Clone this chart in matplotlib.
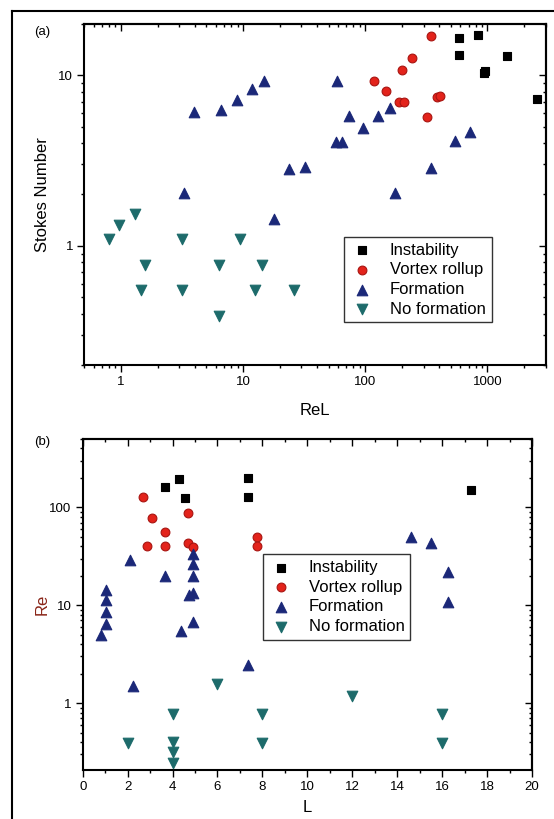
import numpy as np
import matplotlib.pyplot as plt
from matplotlib.lines import Line2D
from matplotlib.ticker import FuncFormatter, NullFormatter, MultipleLocator

plt.rcParams['font.family'] = ['Liberation Sans', 'DejaVu Sans']

# ---- panel (a): Stokes number vs ReL
inst_a_x = [587, 841, 580, 1443, 955, 945, 2564]
inst_a_y = [16.5, 17.2, 13.2, 13.0, 10.6, 10.3, 7.3]
vort_a_x = [346, 240, 201, 117, 147, 189, 206, 388, 409, 317]
vort_a_y = [17.0, 12.6, 10.8, 9.26, 8.13, 6.97, 7.0, 7.43, 7.57, 5.67]
form_a_x = [3.95, 6.61, 8.87, 11.8, 14.8, 58.2, 3.26, 23.6, 32.2, 17.9,
            58, 64, 73.6, 96, 128, 158, 175, 348, 545, 726]
form_a_y = [6.09, 6.23, 7.17, 8.28, 9.22, 9.26, 2.03, 2.81, 2.91, 1.44,
            4.08, 4.08, 5.8, 4.93, 5.74, 6.43, 2.03, 2.86, 4.12, 4.63]
nof_a_x = [0.79, 0.97, 1.29, 1.57, 1.45, 3.13, 3.13, 6.35, 6.35, 9.42, 12.6, 14.2, 26]
nof_a_y = [1.09, 1.33, 1.54, 0.77, 0.549, 1.09, 0.549, 0.77, 0.386, 1.09, 0.549, 0.77, 0.549]

# ---- panel (b): Re vs L
inst_b_L = [3.66, 4.29, 4.56, 7.37, 7.37, 17.28]
inst_b_Re = [160, 196, 126, 199, 129, 149]
vort_b_L = [2.67, 3.1, 2.88, 3.66, 3.66, 4.69, 4.69, 4.89, 7.78, 7.78]
vort_b_Re = [129, 78, 40.1, 56.1, 40, 86.9, 43, 39.5, 49.9, 40]
form_b_L = [2.09, 1.02, 1.02, 1.02, 1.02, 0.82, 3.66, 4.92, 4.92, 4.92,
            4.73, 4.92, 4.92, 4.39, 2.22, 7.37, 14.62, 15.52, 16.26, 16.26]
form_b_Re = [28.7, 14.3, 11.4, 8.62, 6.51, 4.92, 20, 33.3, 26.5, 19.7,
             12.8, 13.3, 6.71, 5.48, 1.5, 2.47, 50.3, 43, 21.8, 10.9]
nof_b_L = [2, 4, 4, 4, 4, 6, 8, 8, 12, 16, 16]
nof_b_Re = [0.389, 0.78, 0.398, 0.32, 0.243, 1.56, 0.78, 0.39, 1.18, 0.78, 0.39]

labels = ['Instability', 'Vortex rollup', 'Formation', 'No formation']
styles = [dict(marker='s', s=36, c='black', edgecolors='black'),
          dict(marker='o', s=40, c='#e3231b', edgecolors='#a81410'),
          dict(marker='^', s=58, c='#1b2878', edgecolors='#1b2878'),
          dict(marker='v', s=58, c='#1d6b6b', edgecolors='#1d6b6b')]

W, H = 554, 819


def fmt(v, _):
    return f'{v:g}'


def style_axes(ax, logx):
    ax.tick_params(which='both', direction='out', labelsize=9.5, width=1, pad=3,
                   top=False, right=False)
    ax.tick_params(which='major', length=5)
    ax.tick_params(which='minor', length=2.5)
    for sp in ax.spines.values():
        sp.set_linewidth(1.5)
    top = ax.secondary_xaxis('top')
    right = ax.secondary_yaxis('right')
    for sec in (top, right):
        sec.tick_params(which='both', direction='in', width=1,
                        labeltop=False, labelright=False)
        sec.tick_params(which='major', length=5)
        sec.tick_params(which='minor', length=2.5)
        for sp in sec.spines.values():
            sp.set_linewidth(1.5)
    right.yaxis.set_major_formatter(NullFormatter())
    right.yaxis.set_minor_formatter(NullFormatter())
    top.xaxis.set_major_formatter(NullFormatter())
    top.xaxis.set_minor_formatter(NullFormatter())
    if not logx:
        top.xaxis.set_major_locator(MultipleLocator(2))
        top.xaxis.set_minor_locator(MultipleLocator(1))


def add_legend(ax, anchor):
    leg = ax.legend(loc='lower left', bbox_to_anchor=anchor, fontsize=12,
                    frameon=True, fancybox=False, edgecolor='#333333', framealpha=1,
                    scatterpoints=1, handlelength=1.5, handletextpad=0.9,
                    labelspacing=0.28, borderpad=0.35, borderaxespad=0)
    leg.get_frame().set_linewidth(1.0)
    return leg


fig = plt.figure(figsize=(W / 100, H / 100), dpi=100)

# panel (a)
ax1 = fig.add_axes([84.3 / W, 1 - 365 / H, (545.7 - 84.3) / W, (365 - 24) / H])
ax1.set_xscale('log')
ax1.set_yscale('log')
ax1.set_xlim(0.5, 3000)
ax1.set_ylim(0.2, 20)
series_a = [(inst_a_x, inst_a_y), (vort_a_x, vort_a_y),
            (form_a_x, form_a_y), (nof_a_x, nof_a_y)]
for (xs, ys), lab, st in zip(series_a, labels, styles):
    ax1.scatter(xs, ys, label=lab, linewidths=0.8, zorder=3, **st)
ax1.xaxis.set_major_formatter(FuncFormatter(fmt))
ax1.yaxis.set_major_formatter(FuncFormatter(fmt))
ax1.xaxis.set_minor_formatter(NullFormatter())
ax1.yaxis.set_minor_formatter(NullFormatter())
style_axes(ax1, True)
ax1.set_xlabel('ReL', fontsize=12, labelpad=11)
ax1.set_ylabel('Stokes Number', fontsize=12, labelpad=6)
add_legend(ax1, (0.563, 0.125))
fig.text(42 / W, 1 - 32 / H, '(a)', fontsize=9.5, ha='center', va='center')

# panel (b)
ax2 = fig.add_axes([82.7 / W, 1 - 769.5 / H, (532 - 82.7) / W, (769.5 - 439) / H])
ax2.set_yscale('log')
ax2.set_xlim(0, 20)
ax2.set_ylim(0.21, 500)
series_b = [(inst_b_L, inst_b_Re), (vort_b_L, vort_b_Re),
            (form_b_L, form_b_Re), (nof_b_L, nof_b_Re)]
for (xs, ys), lab, st in zip(series_b, labels, styles):
    ax2.scatter(xs, ys, label=lab, linewidths=0.8, zorder=3, **st)
ax2.xaxis.set_major_locator(MultipleLocator(2))
ax2.xaxis.set_minor_locator(MultipleLocator(1))
ax2.yaxis.set_major_formatter(FuncFormatter(fmt))
ax2.yaxis.set_minor_formatter(NullFormatter())
style_axes(ax2, False)
ax2.set_xlabel('L', fontsize=12, labelpad=5)
ax2.set_ylabel('Re', fontsize=12, labelpad=0, color='#8a2518')
add_legend(ax2, (0.401, 0.392))
fig.text(42 / W, 1 - 442 / H, '(b)', fontsize=9.5, ha='center', va='center')

# outer frame (left and top edges)
x0, y0 = 12.3 / W, 1 - 11 / H
fig.add_artist(Line2D([x0, x0], [0, y0], transform=fig.transFigure, color='black', lw=1.5))
fig.add_artist(Line2D([x0, 1], [y0, y0], transform=fig.transFigure, color='black', lw=1.5))

fig.savefig('out.png', dpi=100)
